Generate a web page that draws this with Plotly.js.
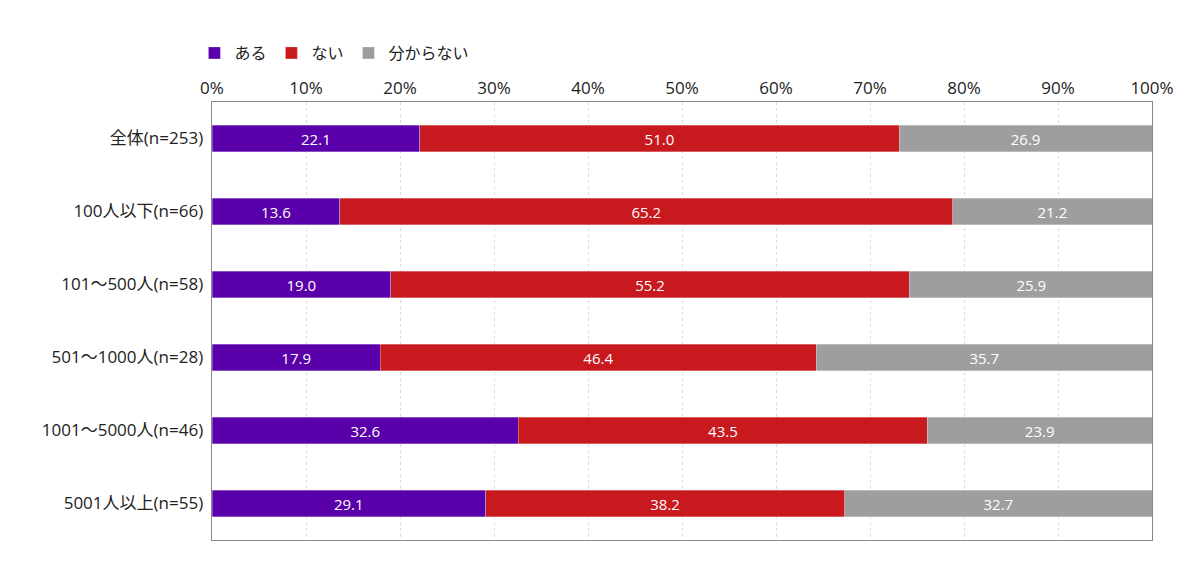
<!DOCTYPE html>
<html>
<head>
<meta charset="utf-8">
<script src="https://cdn.plot.ly/plotly-3.0.1.min.js"></script>
<style>
  html, body { margin: 0; padding: 0; background: #fff; }
  #plot { width: 1200px; height: 570px; }
</style>
</head>
<body>
<div id="plot"></div>
<script>
const categories = ['全体(n=253)', '100人以下(n=66)', '101～500人(n=58)', '501～1000人(n=28)', '1001～5000人(n=46)', '5001人以上(n=55)'];
const aru = [22.1, 13.6, 19.0, 17.9, 32.6, 29.1];
const nai = [51.0, 65.2, 55.2, 46.4, 43.5, 38.2];
const wakaranai = [26.9, 21.2, 25.9, 35.7, 23.9, 32.7];
const seriesNames = ['ある', 'ない', '分からない'];
const seriesColors = ['#5a00aa', '#c8191f', '#9e9e9e'];

// latin glyphs from Open Sans (wider, like the original), CJK falls back to Noto
const font = '"Open Sans", "Noto Sans CJK JP", sans-serif';

const data = [aru, nai, wakaranai].map((vals, i) => ({
  type: 'bar',
  orientation: 'h',
  name: seriesNames[i],
  y: categories,
  x: vals,
  text: vals.map((v) => v.toFixed(1)),
  textposition: 'inside',
  insidetextanchor: 'middle',
  textfont: { color: '#ffffff', size: 15, family: font },
  marker: { color: seriesColors[i], line: { color: 'rgba(255,255,255,0.6)', width: 0.5 } },
  hoverinfo: 'skip'
}));

const layout = {
  barmode: 'stack',
  bargap: 0.64,
  font: { family: font, color: '#222', size: 16 },
  paper_bgcolor: '#fff',
  plot_bgcolor: '#fff',
  margin: { l: 212, r: 48, t: 102, b: 30 },
  showlegend: true,
  legend: {
    orientation: 'h',
    xref: 'container', yref: 'container',
    x: 0.162, xanchor: 'left',
    y: 1 - 53 / 570, yanchor: 'middle',
    font: { size: 16, family: font, color: '#222' },
    itemwidth: 30,
    traceorder: 'normal'
  },
  xaxis: {
    side: 'top',
    range: [0, 100],
    dtick: 10,
    ticksuffix: '%',
    showgrid: true,
    gridcolor: '#dcdcdc',
    griddash: '3px,3px',
    gridwidth: 1,
    zeroline: false,
    showline: true,
    mirror: true,
    linecolor: '#888',
    linewidth: 1,
    ticks: '',
    tickfont: { size: 17, color: '#222' },
    fixedrange: true
  },
  yaxis: {
    autorange: 'reversed',
    showline: true,
    mirror: true,
    linecolor: '#888',
    linewidth: 1,
    ticks: '',
    ticksuffix: ' ',
    tickfont: { size: 17, color: '#222' },
    fixedrange: true
  }
};

Plotly.newPlot('plot', data, layout, { displayModeBar: false, staticPlot: true });
</script>
</body>
</html>
